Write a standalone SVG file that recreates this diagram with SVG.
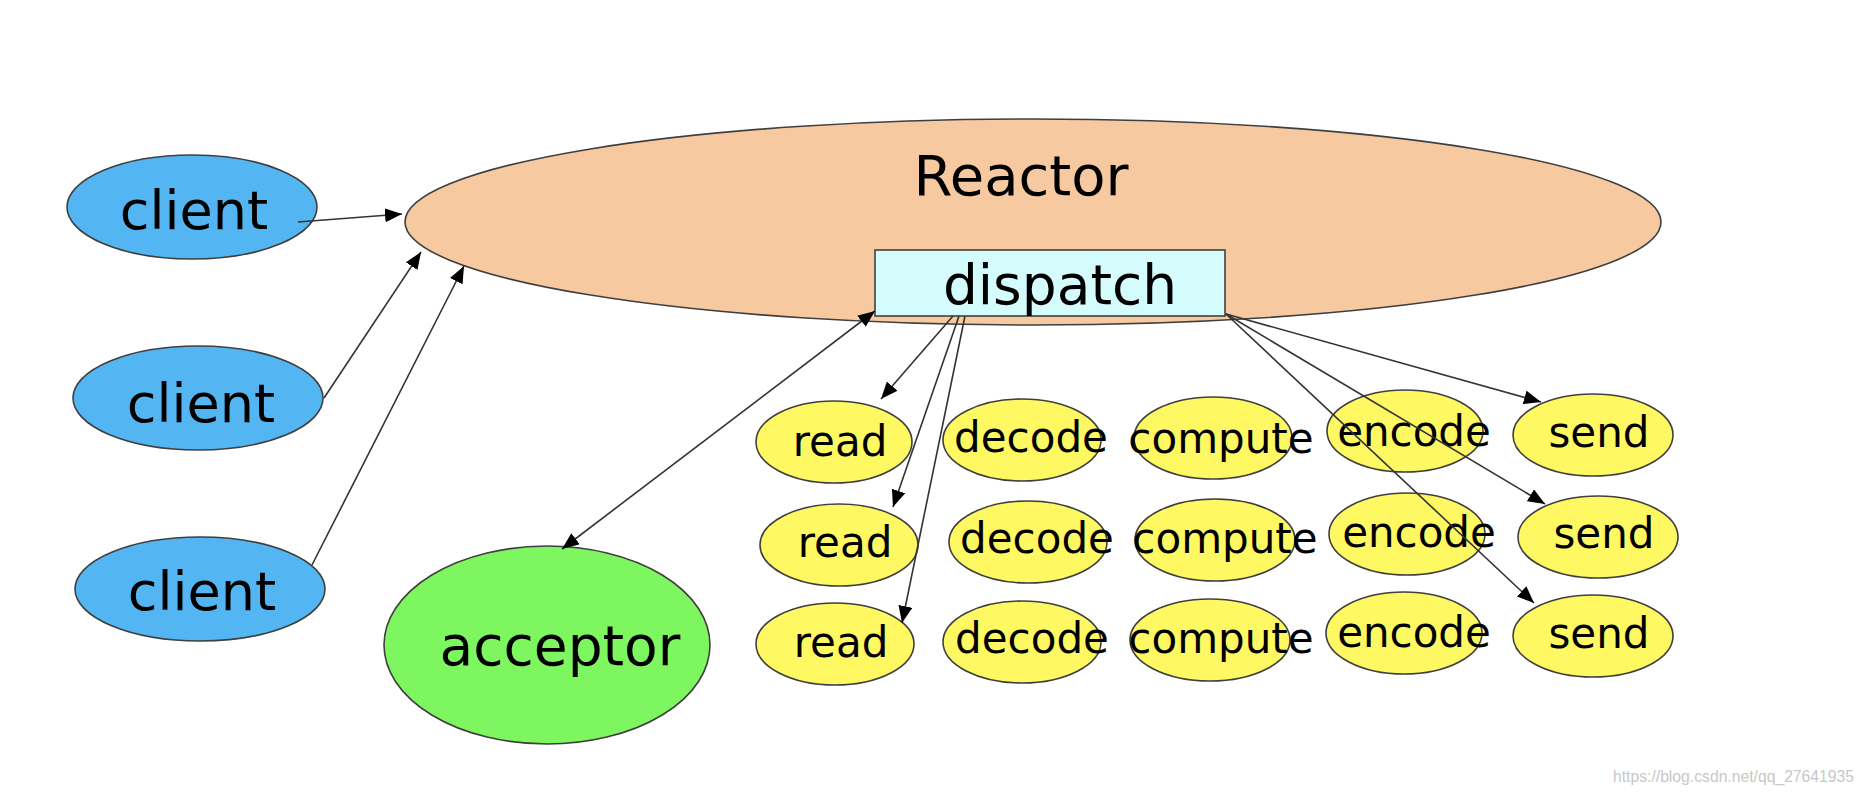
<svg xmlns="http://www.w3.org/2000/svg" width="1864" height="794" viewBox="0 0 1864 794">
<defs>
<style>
.n{stroke:#3f3f3f;stroke-width:1.6}
.cl{fill:#53b6f2}
.re{fill:#f6c9a0}
.di{fill:#d4fcfd}
.ac{fill:#7df65f}
.y{fill:#fef862}
text{font-family:"DejaVu Sans","Liberation Sans",sans-serif;fill:#000;text-anchor:middle}
.big{font-size:54px}
.sm{font-size:42px}
.e{fill:none;stroke:#333;stroke-width:1.6}
</style>
<marker id="ah" markerUnits="userSpaceOnUse" markerWidth="18" markerHeight="14" refX="17" refY="7" orient="auto-start-reverse" viewBox="0 0 18 14">
<path d="M0,0 L17,7 L0,14 z" fill="#000"/>
</marker>
</defs>
<rect width="1864" height="794" fill="#fff"/>
<g id="reactor">
<ellipse class="n re" cx="1033" cy="222" rx="628" ry="103"/>
<text x="1021" y="195" style="font-size:56px">Reactor</text>
</g>
<g id="dispatch">
<rect class="n di" x="875" y="250" width="350" height="66"/>
<text x="1060" y="304" style="font-size:55px">dispatch</text>
</g>
<g id="client1">
<ellipse class="n cl" cx="192" cy="207" rx="125" ry="52"/>
<text class="big" x="194" y="229">client</text>
</g>
<g id="client2">
<ellipse class="n cl" cx="198" cy="398" rx="125" ry="52"/>
<text class="big" x="201" y="422">client</text>
</g>
<g id="client3">
<ellipse class="n cl" cx="200" cy="589" rx="125" ry="52"/>
<text class="big" x="202" y="610">client</text>
</g>
<g id="acceptor">
<ellipse class="n ac" cx="547" cy="645" rx="163" ry="99"/>
<text x="560" y="665" style="font-size:55px">acceptor</text>
</g>
<g id="read1"><ellipse class="n y" cx="834" cy="442" rx="78" ry="41"/><text class="sm" x="840" y="456">read</text></g>
<g id="decode1"><ellipse class="n y" cx="1022" cy="440" rx="79" ry="41"/><text class="sm" x="1031" y="452">decode</text></g>
<g id="compute1"><ellipse class="n y" cx="1213" cy="438" rx="79" ry="41"/><text class="sm" x="1221" y="453">compute</text></g>
<g id="encode1"><ellipse class="n y" cx="1405" cy="431" rx="78" ry="41"/><text class="sm" x="1414" y="446">encode</text></g>
<g id="send1"><ellipse class="n y" cx="1593" cy="435" rx="80" ry="41"/><text class="sm" x="1599" y="447">send</text></g>
<g id="read2"><ellipse class="n y" cx="839" cy="545" rx="79" ry="41"/><text class="sm" x="845" y="557">read</text></g>
<g id="decode2"><ellipse class="n y" cx="1028" cy="542" rx="79" ry="41"/><text class="sm" x="1037" y="553">decode</text></g>
<g id="compute2"><ellipse class="n y" cx="1215" cy="540" rx="80" ry="41"/><text class="sm" x="1225" y="553">compute</text></g>
<g id="encode2"><ellipse class="n y" cx="1407" cy="534" rx="78" ry="41"/><text class="sm" x="1419" y="547">encode</text></g>
<g id="send2"><ellipse class="n y" cx="1598" cy="537" rx="80" ry="41"/><text class="sm" x="1604" y="548">send</text></g>
<g id="read3"><ellipse class="n y" cx="835" cy="644" rx="79" ry="41"/><text class="sm" x="841" y="657">read</text></g>
<g id="decode3"><ellipse class="n y" cx="1022" cy="642" rx="79" ry="41"/><text class="sm" x="1032" y="653">decode</text></g>
<g id="compute3"><ellipse class="n y" cx="1210" cy="640" rx="80" ry="41"/><text class="sm" x="1221" y="653">compute</text></g>
<g id="encode3"><ellipse class="n y" cx="1404" cy="633" rx="78" ry="41"/><text class="sm" x="1414" y="647">encode</text></g>
<g id="send3"><ellipse class="n y" cx="1593" cy="636" rx="80" ry="41"/><text class="sm" x="1599" y="648">send</text></g>
<g id="connectors">
<line class="e" x1="298" y1="222" x2="402" y2="214" marker-end="url(#ah)"/>
<line class="e" x1="324" y1="398" x2="421" y2="252" marker-end="url(#ah)"/>
<line class="e" x1="312" y1="565" x2="464" y2="266" marker-end="url(#ah)"/>
<line class="e" x1="562" y1="549" x2="875" y2="311" marker-start="url(#ah)" marker-end="url(#ah)"/>
<line class="e" x1="953" y1="316" x2="881" y2="399" marker-end="url(#ah)"/>
<line class="e" x1="959" y1="316" x2="893" y2="507" marker-end="url(#ah)"/>
<line class="e" x1="965" y1="316" x2="902" y2="623" marker-end="url(#ah)"/>
<line class="e" x1="1226" y1="314" x2="1541" y2="402" marker-end="url(#ah)"/>
<line class="e" x1="1226" y1="314" x2="1545" y2="504" marker-end="url(#ah)"/>
<line class="e" x1="1226" y1="314" x2="1534" y2="603" marker-end="url(#ah)"/>
</g>
<text x="1854" y="782" style="font-family:'Liberation Sans',sans-serif;font-size:16px;fill:#c8c8c8;text-anchor:end" textLength="241" lengthAdjust="spacingAndGlyphs">https://blog.csdn.net/qq_27641935</text>
</svg>
